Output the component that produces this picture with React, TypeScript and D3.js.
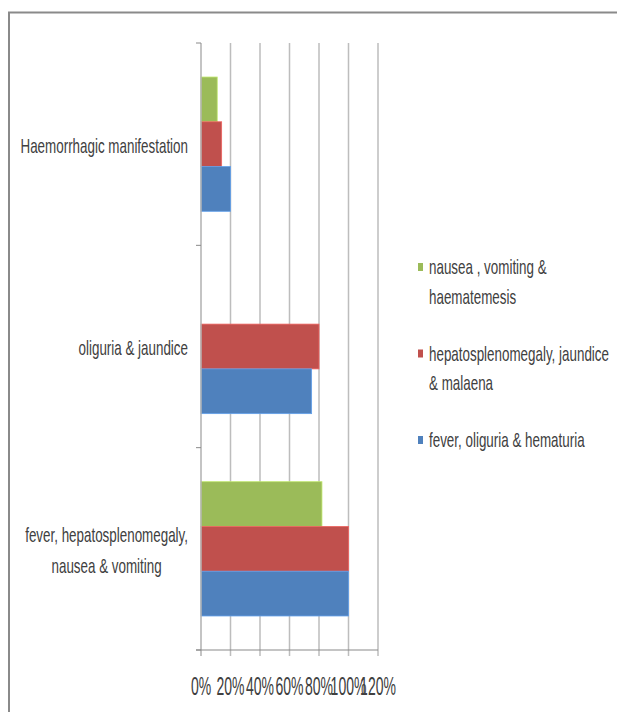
import React, { useRef, useEffect } from 'react';
import * as d3 from 'd3';

const categories = [
  'Haemorrhagic manifestation',
  'oliguria & jaundice',
  'fever, hepatosplenomegaly, nausea & vomiting',
];
const categoryLines = [
  ['Haemorrhagic manifestation'],
  ['oliguria & jaundice'],
  ['fever, hepatosplenomegaly,', 'nausea & vomiting'],
];
const seriesNames = [
  'nausea , vomiting & haematemesis',
  'hepatosplenomegaly, jaundice & malaena',
  'fever, oliguria & hematuria',
];
const seriesLines = [
  ['nausea , vomiting &', 'haematemesis'],
  ['hepatosplenomegaly, jaundice', '& malaena'],
  ['fever, oliguria & hematuria'],
];
const seriesColors = ['#9BBB59', '#C0504D', '#4F81BD'];
const nauseaValues = [0.11, 0, 0.82];
const hepatoValues = [0.14, 0.8, 1.0];
const feverValues = [0.2, 0.75, 1.0];
const xTicks = [0, 0.2, 0.4, 0.6, 0.8, 1.0, 1.2];

const FONT = '"Liberation Sans", Arial, sans-serif';
const SQUISH = 0.67;

const App: React.FC = () => {
  const svgRef = useRef<SVGSVGElement | null>(null);

  useEffect(() => {
    const svg = d3.select(svgRef.current);
    svg.selectAll('*').remove();

    const values = [nauseaValues, hepatoValues, feverValues];

    // frame
    svg.append('rect')
      .attr('x', 9).attr('y', 12.5)
      .attr('width', 1000).attr('height', 1000)
      .attr('fill', 'white')
      .attr('stroke', '#8a8a8a')
      .attr('stroke-width', 2);

    const x = d3.scaleLinear().domain([0, 1.2]).range([201, 378]);
    const y = d3.scaleBand().domain(categories).range([43, 650]).padding(0);
    const inner = d3.scaleBand<number>()
      .domain([0, 1, 2])
      .range([0, y.bandwidth()])
      .paddingInner(0)
      .paddingOuter(0.76);

    // gridlines
    svg.append('g')
      .selectAll('line')
      .data(xTicks.slice(1))
      .enter()
      .append('line')
      .attr('x1', d => x(d)).attr('x2', d => x(d))
      .attr('y1', 43).attr('y2', 656)
      .attr('stroke', '#bdbdbd')
      .attr('stroke-width', 1.5);

    // bars
    categories.forEach((c, ci) => {
      values.forEach((vals, si) => {
        if (vals[ci] <= 0) return;
        svg.append('rect')
          .attr('x', x(0))
          .attr('y', (y(c) as number) + (inner(si) as number))
          .attr('width', x(vals[ci]) - x(0))
          .attr('height', inner.bandwidth())
          .attr('fill', seriesColors[si])
          .attr('stroke', d3.color(seriesColors[si])!.brighter(0.6).toString())
          .attr('stroke-width', 0.8);
      });
    });

    // y axis line and ticks
    svg.append('line')
      .attr('x1', x(0)).attr('x2', x(0))
      .attr('y1', 43).attr('y2', 656)
      .attr('stroke', '#b0b0b0').attr('stroke-width', 1.5);
    const yTickPos = categories.map(c => y(c) as number).concat([650]);
    svg.append('g')
      .selectAll('line')
      .data(yTickPos)
      .enter()
      .append('line')
      .attr('x1', x(0) - 5).attr('x2', x(0))
      .attr('y1', d => d).attr('y2', d => d)
      .attr('stroke', '#8a8a8a').attr('stroke-width', 1);

    // x axis line
    svg.append('line')
      .attr('x1', x(0) - 5).attr('x2', x(1.2))
      .attr('y1', 650).attr('y2', 650)
      .attr('stroke', '#8a8a8a').attr('stroke-width', 1.2);

    // x tick labels
    const fmt = d3.format('.0%');
    svg.append('g')
      .selectAll('text')
      .data(xTicks)
      .enter()
      .append('text')
      .attr('transform', d => `translate(${x(d)},695) scale(0.56,1)`)
      .attr('text-anchor', 'middle')
      .attr('font-family', FONT)
      .attr('font-size', 25)
      .attr('fill', '#404040')
      .text(d => fmt(d));

    // category labels
    const labelRight = 188;
    const lineGap = 31;
    categories.forEach((c, ci) => {
      const lines = categoryLines[ci];
      const cy = (y(c) as number) + y.bandwidth() / 2 + 2;
      const g = svg.append('g')
        .attr('transform', `translate(${labelRight},0) scale(${SQUISH},1)`);
      const texts = lines.map((ln, li) =>
        g.append('text')
          .attr('y', cy - ((lines.length - 1) * lineGap) / 2 + li * lineGap)
          .attr('dy', '0.35em')
          .attr('font-family', FONT)
          .attr('font-size', 20)
          .attr('fill', '#404040')
          .text(ln)
      );
      const widths = texts.map(t => (t.node() as SVGTextElement).getComputedTextLength());
      const maxW = Math.max(...widths);
      texts.forEach(t => {
        t.attr('x', -maxW / 2).attr('text-anchor', 'middle');
      });
    });

    // legend
    let ly = 267;
    seriesNames.forEach((s, si) => {
      svg.append('rect')
        .attr('x', 418).attr('y', ly - 4)
        .attr('width', 5).attr('height', 8)
        .attr('fill', seriesColors[si]);
      seriesLines[si].forEach((ln, li) => {
        svg.append('text')
          .attr('transform', `translate(429,${ly + li * 29.5}) scale(${SQUISH},1)`)
          .attr('dy', '0.35em')
          .attr('font-family', FONT)
          .attr('font-size', 20)
          .attr('fill', '#404040')
          .text(ln);
      });
      ly += seriesLines[si].length === 2 ? 86.5 : 84;
    });
  }, []);

  return (
    <svg ref={svgRef} width={617} height={712} style={{ position: 'absolute', left: 0, top: 0 }} />
  );
};

export default App;
